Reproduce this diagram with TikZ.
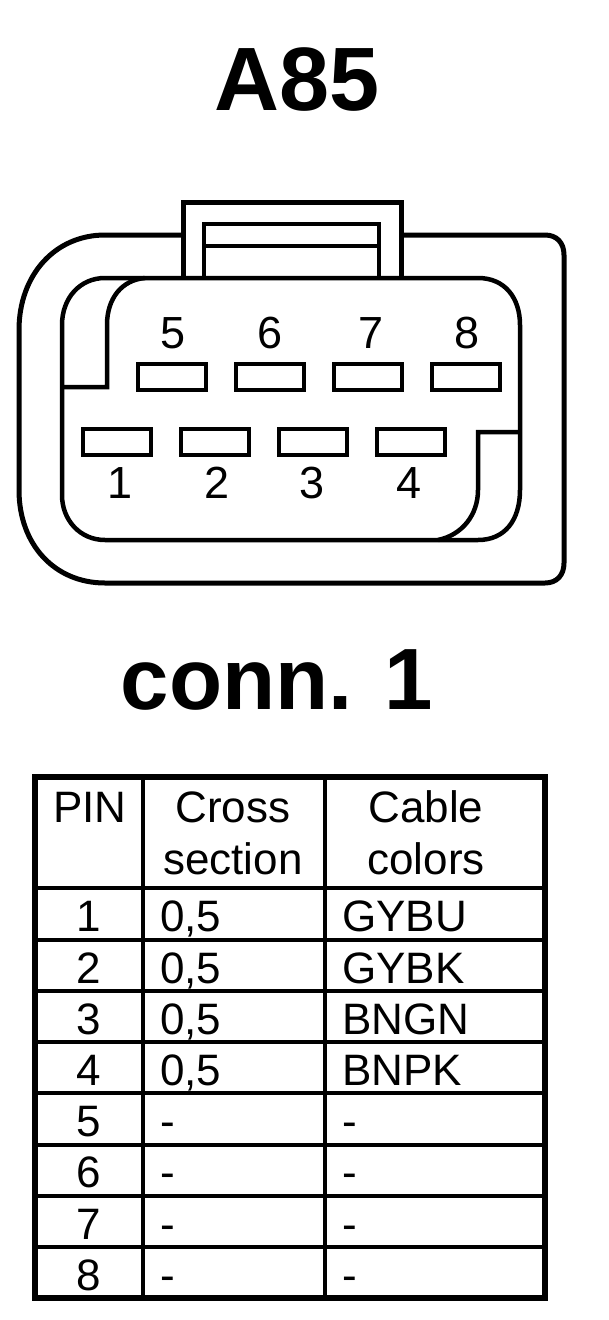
\documentclass[tikz,border=0pt]{standalone}
\usepackage{fontspec}
\setmainfont{Liberation Sans}
\tikzset{
  shell/.style={line width=5pt,color=black},
  wall/.style={line width=4.5pt,color=black},
  pinbox/.style={draw,line width=4.5pt,minimum width=68pt,minimum height=26pt,inner sep=0pt},
  pinlbl/.style={inner sep=0pt,font=\fontsize{45}{45}\selectfont},
  title/.style={inner sep=0pt,font=\fontsize{90}{90}\selectfont\bfseries},
  titlesm/.style={inner sep=0pt,font=\fontsize{87}{87}\selectfont\bfseries},
  cell/.style={inner sep=0pt,anchor=base,font=\fontsize{44}{44}\selectfont},
  cellw/.style={cell,anchor=base west}
}

\begin{document}
\begin{tikzpicture}[x=1pt,y=-1pt]
\useasboundingbox (0,0) rectangle (608,1320);

\node[title] (head) at (297,80) {A85};
\node[titlesm] (conn) at (277,680) {conn. 1};

% outer shell
\draw[shell] (183,235) -- (105,235) .. controls (55,235) and (19,275) .. (19,330)
  -- (19,490) .. controls (19,545) and (55,583) .. (105,583)
  -- (545,583) .. controls (557,583) and (564,575) .. (564,563)
  -- (564,255) .. controls (564,243) and (557,235) .. (545,235) -- (401,235);

% latch
\draw[shell] (183,278) -- (183,202) -- (401,202) -- (401,278);
\draw[wall] (204,278) -- (204,224) -- (379,224) -- (379,278);
\draw[wall] (204,246) -- (379,246);

% inner cavity
\draw[wall] (105,278) -- (478,278) .. controls (505,278) and (520,298) .. (520,325)
  -- (520,490) .. controls (520,520) and (505,540) .. (478,540)
  -- (105,540) .. controls (80,540) and (62,520) .. (62,495)
  -- (62,325) .. controls (62,298) and (80,278) .. (105,278);
\draw[wall] (145,278) .. controls (122,280) and (107,298) .. (107,325)
  -- (107,387) -- (62,387);
\draw[wall] (520,432) -- (478,432) -- (478,490) .. controls (478,515) and (462,535) .. (438,540);

% pins
\foreach \n/\x/\y in {5/172/377,6/270/377,7/368/377,8/466/377,1/117/442,2/215/442,3/313/442,4/411/442}
  \node[pinbox] (pin\n) at (\x,\y) {};
\foreach \n/\x/\y in {5/173/333,6/270/333,7/371/333,8/467/333,1/120/483,2/217/483,3/312/483,4/409/483}
  \node[pinlbl] (lbl\n) at (\x,\y) {\n};

% table
\draw[line width=5.5pt] (35,777) rectangle (545,1298);
\draw[wall] (143,777) -- (143,1298);
\draw[wall] (325,777) -- (325,1298);
\foreach \y in {888,940,991,1042,1093,1145,1196,1247}
  \draw[wall] (35,\y) -- (545,\y);

\node[cell] (hpin) at (90,822) {PIN};
\node[cell] (hcross) at (233,822) {Cross};
\node[cell] (hsect) at (233,874) {section};
\node[cell] (hcable) at (426,822) {Cable};
\node[cell] (hcolor) at (426,874) {colors};

\foreach \n/\y/\s/\c in {1/931/{0,5}/GYBU,2/983/{0,5}/GYBK,3/1034/{0,5}/BNGN,4/1085/{0,5}/BNPK,
    5/1136/-/-,6/1187/-/-,7/1239/-/-,8/1290/-/-}{
  \node[cell] (row\n) at (89,\y) {\n};
  \node[cellw] (sec\n) at (160,\y) {\s};
  \node[cellw] (col\n) at (342,\y) {\c};
}
\end{tikzpicture}
\end{document}
